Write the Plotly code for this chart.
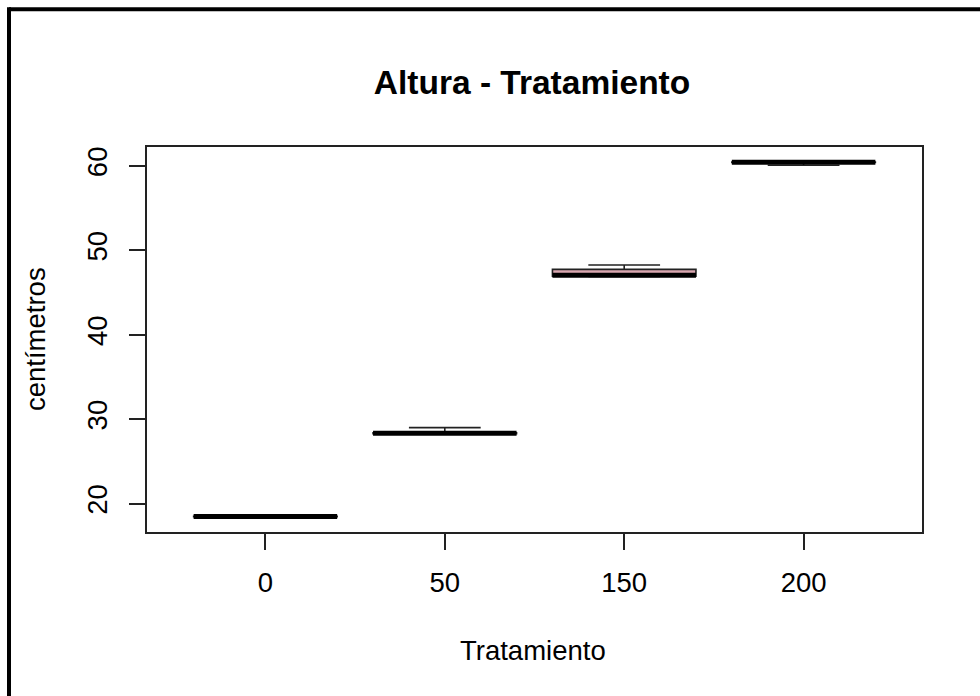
import plotly.graph_objects as go

# ---- data ----
tratamientos = ["0", "50", "150", "200"]
posiciones = [1, 2, 3, 4]
bigote_inf = [18.45, 28.25, 46.9, 60.08]
q1 = [18.45, 28.28, 46.95, 60.42]
mediana = [18.48, 28.33, 47.05, 60.44]
q3 = [18.5, 28.38, 47.75, 60.46]
bigote_sup = [18.5, 29.0, 48.27, 60.46]
y_ticks = [20, 30, 40, 50, 60]

ancho = 0.8
color_caja = "#d9a7b0"

fig = go.Figure()

fig.add_trace(go.Box(
    x=posiciones, q1=q1, median=mediana, q3=q3,
    lowerfence=bigote_inf, upperfence=bigote_sup,
    width=ancho, whiskerwidth=0.5,
    fillcolor=color_caja,
    line=dict(color="#222222", width=1.6),
    boxpoints=False, hoverinfo="skip", showlegend=False,
))

# thick median lines (R style)
mx, my = [], []
for p, m in zip(posiciones, mediana):
    mx += [p - ancho / 2, p + ancho / 2, None]
    my += [m, m, None]
fig.add_trace(go.Scatter(x=mx, y=my, mode="lines",
                         line=dict(color="black", width=5),
                         hoverinfo="skip", showlegend=False))

L, R, T, B = 147, 58, 147, 164
W, H = 980, 696
pw, ph = W - L - R, H - T - B

def px(x):
    return (x - L) / pw

def py(y):
    return (H - B - y) / ph

axis_font = dict(family="Liberation Sans, Arial, sans-serif", size=27.5, color="black")

fig.update_layout(
    width=W, height=H,
    margin=dict(l=L, r=R, t=T, b=B, autoexpand=False),
    paper_bgcolor="white", plot_bgcolor="white",
    title=dict(text="<b>Altura - Tratamiento</b>", x=px(532), xref="paper",
               y=1 - 82 / H, yref="container", xanchor="center", yanchor="middle",
               font=dict(family="Liberation Sans, Arial, sans-serif", size=33.5, color="black")),
    xaxis=dict(range=[0.34, 4.66], tickmode="array", tickvals=posiciones,
               ticktext=tratamientos, showgrid=False, zeroline=False,
               showline=True, mirror=True, linecolor="#222222", linewidth=1.5,
               ticks="outside", ticklen=16, tickcolor="#222222", tickwidth=1.5,
               tickfont=axis_font, ticklabelstandoff=9),
    yaxis=dict(range=[16.64, 62.25], tickmode="array", tickvals=y_ticks,
               showgrid=False, zeroline=False,
               showline=True, mirror=True, linecolor="#222222", linewidth=1.5,
               ticks="outside", ticklen=16, tickcolor="#222222", tickwidth=1.5,
               tickangle=-90, tickfont=axis_font, ticklabelstandoff=11),
    annotations=[
        dict(text="Tratamiento", xref="paper", yref="paper", x=px(533), y=py(650),
             xanchor="center", yanchor="middle", showarrow=False, font=axis_font),
        dict(text="centímetros", xref="paper", yref="paper", x=px(35), y=py(339),
             xanchor="center", yanchor="middle", showarrow=False, textangle=-90,
             font=axis_font),
    ],
    shapes=[
        dict(type="line", xref="paper", yref="paper", x0=px(9), x1=px(990),
             y0=py(9.3), y1=py(9.3), line=dict(color="black", width=4)),
        dict(type="line", xref="paper", yref="paper", x0=px(9), x1=px(9),
             y0=py(7.3), y1=py(710), line=dict(color="black", width=4)),
    ],
)

fig.write_html("out.html")
